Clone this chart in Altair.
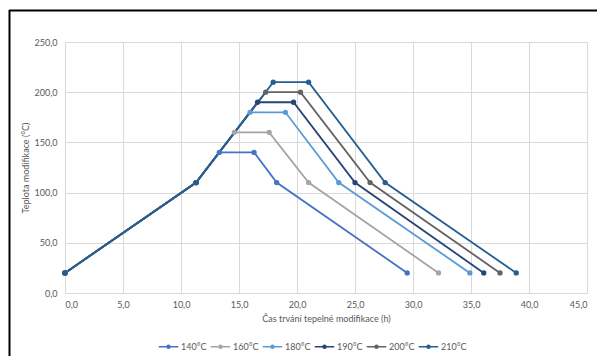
import altair as alt
import pandas as pd

# Series (modification temperature)
series = ["140°C", "160°C", "180°C", "190°C", "200°C", "210°C"]
colors = ["#4472C4", "#A5A5A5", "#5B9BD5", "#264478", "#636363", "#255E91"]
peak_temp = [140, 160, 180, 190, 200, 210]

# Time points (h)
t_start = [0.0, 0.0, 0.0, 0.0, 0.0, 0.0]
t_up110 = [11.3, 11.3, 11.3, 11.3, 11.3, 11.3]
t_peak_start = [13.3, 14.6, 15.95, 16.6, 17.3, 17.95]
t_peak_end = [16.3, 17.6, 19.0, 19.7, 20.3, 21.0]
t_down110 = [18.25, 21.0, 23.6, 25.0, 26.3, 27.6]
t_end = [29.5, 32.2, 34.9, 36.1, 37.5, 38.9]

# Temperatures (°C)
temp_start = 20
temp_mid = 110
temp_end = 20

rows = []
for i, s in enumerate(series):
    xs = [t_start[i], t_up110[i], t_peak_start[i], t_peak_end[i], t_down110[i], t_end[i]]
    ys = [temp_start, temp_mid, peak_temp[i], peak_temp[i], temp_mid, temp_end]
    for k, (x, y) in enumerate(zip(xs, ys)):
        rows.append({"series": s, "sidx": i, "step": k, "t": x, "T": y})
df = pd.DataFrame(rows)

font = "Lato"
txt = "#595959"
fmt = "replace(format(datum.value, '.1f'), '.', ',')"

xenc = alt.X("t:Q", scale=alt.Scale(domain=[0, 45], nice=False),
             axis=alt.Axis(values=list(range(0, 50, 5)), labelExpr=fmt,
                           title="Čas trvání tepelné  modifikace (h)",
                           titlePadding=5, labelPadding=7,
                           titleFontWeight="normal", titleColor=txt, titleFont=font,
                           titleFontSize=9))
yenc = alt.Y("T:Q", scale=alt.Scale(domain=[0, 250], nice=False),
             axis=alt.Axis(values=list(range(0, 300, 50)), labelExpr=fmt,
                           title="Teplota modifikace (°C)",
                           titlePadding=4, labelPadding=8,
                           titleFontWeight="normal", titleColor=txt, titleFont=font,
                           titleFontSize=9))
cenc = alt.Color("series:N", scale=alt.Scale(domain=series, range=colors),
                 legend=alt.Legend(orient="none", direction="horizontal", columns=6,
                                   legendX=93, legendY=294, title=None,
                                   symbolType="M-1,0L1,0M-0.15,0a0.15,0.15 0 1,0 0.3,0a0.15,0.15 0 1,0 -0.3,0",
                                   symbolSize=380, symbolStrokeWidth=1.5,
                                   labelFontSize=9, labelColor=txt, labelFont=font,
                                   labelOffset=2, columnPadding=0))

base = alt.Chart(df)
lines = base.mark_line(strokeWidth=1.8).encode(
    x=xenc, y=yenc, color=cenc, detail="series:N", order="step:Q")
points = base.mark_point(filled=True, size=28, opacity=1).encode(
    x=xenc, y=yenc, color=cenc)

frame = pd.DataFrame({"a": [0]})
top_rule = alt.Chart(frame).mark_rule(color="black", strokeWidth=2).encode(
    x=alt.value(-56), x2=alt.value(540), y=alt.value(-31.5))
left_rule = alt.Chart(frame).mark_rule(color="black", strokeWidth=2).encode(
    x=alt.value(-55.5), y=alt.value(-32), y2=alt.value(320))

chart = alt.layer(lines, points, top_rule, left_rule).properties(
    width=522, height=251,
    background="white",
    autosize=alt.AutoSizeParams(type="none"),
    padding={"left": 65, "top": 42, "right": 10, "bottom": 63},
).configure_view(stroke=None).configure_axis(
    grid=True, gridColor="#d9d9d9", gridWidth=1, domain=False, ticks=False,
    labelFont=font, labelFontSize=9, labelColor=txt,
    titleFont=font, titleFontSize=9, titleColor=txt, titleFontWeight="normal",
)

chart.save("out.html", embed_options={"renderer": "svg", "actions": False})
